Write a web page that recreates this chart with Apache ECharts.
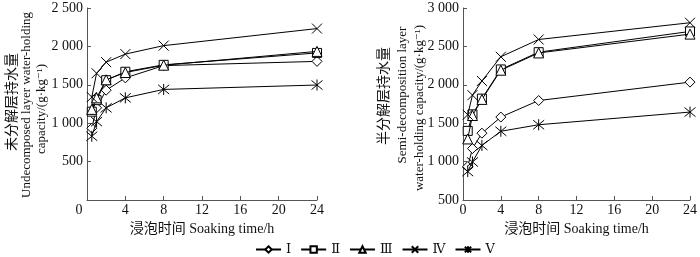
<!DOCTYPE html>
<html>
<head>
<meta charset="utf-8">
<script src="https://cdn.jsdelivr.net/npm/echarts@6/dist/echarts.min.js"></script>
<style>
  html, body { margin: 0; padding: 0; background: #fff; }
  #chart { width: 700px; height: 257px; }
</style>
</head>
<body>
<div id="chart"></div>
<script>
// soaking time (h)
const hours = [0.5, 1, 2, 4, 8, 24];
const seriesNames = ['Ⅰ', 'Ⅱ', 'Ⅲ', 'Ⅳ', 'Ⅴ'];

// undecomposed layer water-holding capacity (g/kg)
const undecI = [935, 1200, 1430, 1590, 1750, 1805];
const undecII = [1150, 1300, 1560, 1670, 1760, 1915];
const undecIII = [1180, 1330, 1565, 1660, 1755, 1935];
const undecIV = [1340, 1650, 1795, 1900, 2010, 2232];
const undecV = [830, 1020, 1200, 1330, 1440, 1497];

// semi-decomposition layer water-holding capacity (g/kg)
const semiI = [935, 1170, 1370, 1580, 1795, 2035];
const semiII = [1400, 1615, 1820, 2200, 2425, 2695];
const semiIII = [1295, 1600, 1810, 2190, 2415, 2660];
const semiIV = [1610, 1865, 2050, 2365, 2590, 2808];
const semiV = [870, 995, 1210, 1395, 1480, 1645];

const serif = '"Liberation Serif", "Times New Roman", "DejaVu Serif", "Noto Sans CJK SC", serif';

// symbols: open diamond, square, triangle, cross, asterisk
const crossPath = 'path://M0 0L10 10M10 0L0 10';
const starPath = 'path://M0 0L10 10M10 0L0 10M5 -1L5 11';
const symbols = ['diamond', 'rect', 'triangle', crossPath, starPath];
const symbolSizes = [10, 9, 10, 10, 11];

function thousands(v) {
  if (v === 0) return '';
  const s = String(v);
  return s.length > 3 ? s.slice(0, s.length - 3) + ' ' + s.slice(-3) : s;
}

function makeSeries(values, idx, gridIdx) {
  return {
    name: seriesNames[idx],
    type: 'line',
    xAxisIndex: gridIdx,
    yAxisIndex: gridIdx,
    data: hours.map((h, i) => [h, values[i]]),
    symbol: symbols[idx],
    symbolSize: symbolSizes[idx],
    showAllSymbol: true,
    lineStyle: { color: '#000', width: 1 },
    itemStyle: { color: '#fff', borderColor: '#000', borderWidth: 1 },
    emphasis: { disabled: true },
    z: 2 + idx
  };
}

function xAxisOf(gridIdx, zeroShift) {
  return {
    type: 'value',
    gridIndex: gridIdx,
    min: 0,
    max: 24,
    interval: 4,
    name: '浸泡时间 Soaking time/h',
    nameLocation: 'middle',
    nameGap: 20,
    nameTextStyle: { color: '#111', fontSize: 14, fontFamily: serif },
    axisLine: { lineStyle: { color: '#555', width: 1 } },
    axisTick: { show: true, inside: true, length: 4, lineStyle: { color: '#555' } },
    splitLine: { show: false },
    axisLabel: {
      color: '#111',
      fontSize: 14,
      fontFamily: serif,
      margin: 3,
      formatter: v => (v === 0 && zeroShift ? '{z|0}' : String(v)),
      rich: { z: { fontSize: 14, fontFamily: serif, color: '#111', padding: [0, 16, 0, 0] } }
    }
  };
}

function yAxisOf(gridIdx, min, max) {
  return {
    type: 'value',
    gridIndex: gridIdx,
    min: min,
    max: max,
    interval: 500,
    axisLine: { show: true, lineStyle: { color: '#555', width: 1 } },
    axisTick: { show: true, inside: true, length: 4, lineStyle: { color: '#555' } },
    splitLine: { show: false },
    axisLabel: { color: '#111', fontSize: 14, fontFamily: serif, margin: 4, formatter: thousands }
  };
}

function nameText(x, y, text, size) {
  return {
    type: 'text',
    x: x,
    y: y,
    rotation: Math.PI / 2,
    style: {
      text: text,
      fill: '#111',
      font: size + 'px ' + serif,
      align: 'center',
      verticalAlign: 'middle'
    }
  };
}

const chart = echarts.init(document.getElementById('chart'));
chart.setOption({
  backgroundColor: '#fff',
  animation: false,
  grid: [
    { left: 87, top: 8, width: 230, height: 192 },
    { left: 463, top: 8, width: 229, height: 192 }
  ],
  xAxis: [xAxisOf(0, true), xAxisOf(1, false)],
  yAxis: [yAxisOf(0, 0, 2500), yAxisOf(1, 500, 3000)],
  legend: {
    data: seriesNames,
    left: 250,
    top: 238,
    itemWidth: 25,
    itemHeight: 8,
    itemGap: 9,
    selectedMode: false,
    textStyle: { color: '#111', fontSize: 13, fontFamily: serif, width: 20 }
  },
  graphic: [
    nameText(12, 102, '未分解层持水量', 14),
    nameText(27, 105, 'Undecomposed layer water-holding', 13),
    nameText(42, 109, 'capacity/(g·kg⁻¹)', 13),
    nameText(384, 96, '半分解层持水量', 14),
    nameText(403, 95, 'Semi-decomposition layer', 13),
    nameText(420, 108, 'water-holding capacity/(g·kg⁻¹)', 13)
  ],
  series: [
    makeSeries(undecI, 0, 0),
    makeSeries(undecII, 1, 0),
    makeSeries(undecIII, 2, 0),
    makeSeries(undecIV, 3, 0),
    makeSeries(undecV, 4, 0),
    makeSeries(semiI, 0, 1),
    makeSeries(semiII, 1, 1),
    makeSeries(semiIII, 2, 1),
    makeSeries(semiIV, 3, 1),
    makeSeries(semiV, 4, 1)
  ]
});
</script>
</body>
</html>
